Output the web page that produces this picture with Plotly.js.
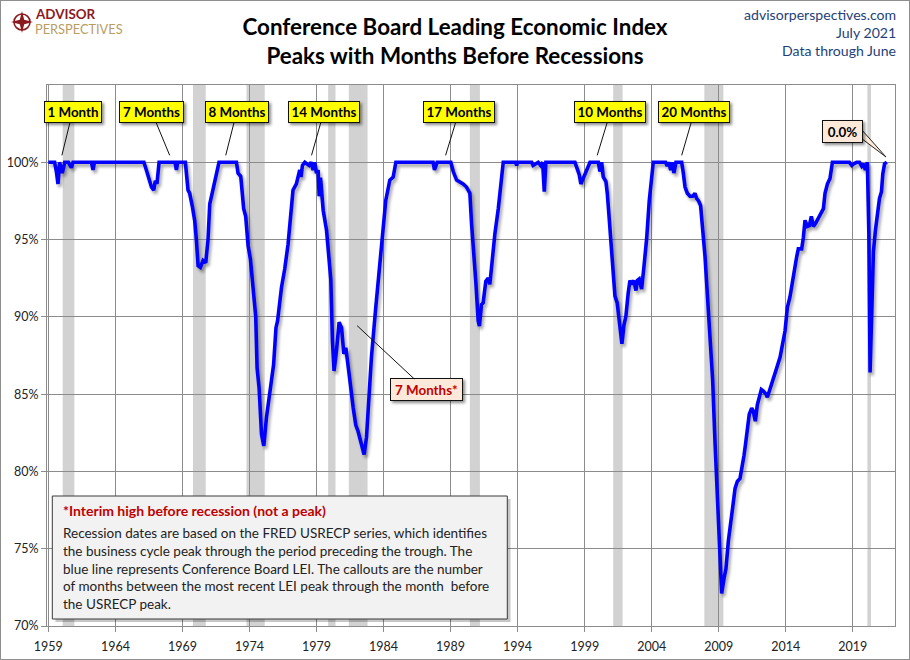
<!DOCTYPE html>
<html>
<head>
<meta charset="utf-8">
<script src="https://cdn.plot.ly/plotly-3.0.1.min.js"></script>
<style>
  html, body { margin: 0; padding: 0; background: #fff; }
  #wrap { position: relative; width: 910px; height: 660px; }
  #chart { width: 910px; height: 660px; }
  #frame { position: absolute; left: 0; top: 0; width: 910px; height: 660px; box-sizing: border-box; border: 1px solid #8f8f8f; pointer-events: none; }
  .scatterlayer .js-line { filter: drop-shadow(2px 3px 1.5px rgba(0,0,0,0.35)); }
  .annotation rect.bg { filter: drop-shadow(2px 2px 1.5px rgba(0,0,0,0.45)); }
</style>
</head>
<body>
<div id="wrap"><div id="chart"></div><div id="frame"></div></div>
<script>
// ---------------- DATA ----------------
// LEI as percent of its previous peak, decimal years
const leiYear = [
  1959.00,1959.47,1959.60,1959.72,1959.84,1960.04,1960.22,1960.50,1960.72,1960.84,
  1962.22,1962.33,1962.44,1966.13,1966.31,1966.69,1966.86,1966.98,1967.10,1967.26,
  1968.45,1968.55,1968.65,1969.22,1969.42,1969.54,1969.75,1969.92,1970.04,1970.17,
  1970.34,1970.54,1970.74,1970.91,1971.04,1971.28,1971.54,1971.73,1973.03,1973.15,
  1973.35,1973.57,1973.72,1973.90,1974.07,1974.27,1974.47,1974.57,1974.72,1974.90,
  1975.07,1975.27,1975.46,1975.64,1975.80,1975.98,1976.10,1976.39,1976.63,1976.88,
  1977.00,1977.25,1977.50,1977.75,1977.85,1977.95,1978.13,1978.45,1978.60,1978.75,
  1978.87,1979.00,1979.12,1979.20,1979.30,1979.50,1979.75,1979.95,1980.07,1980.19,
  1980.31,1980.49,1980.69,1980.87,1981.04,1981.19,1981.29,1981.49,1981.74,1981.93,
  1982.10,1982.36,1982.55,1982.73,1982.92,1983.10,1983.42,1983.67,1983.92,1984.17,
  1984.47,1984.72,1984.92,1987.70,1987.80,1988.00,1989.02,1989.20,1989.45,1989.69,
  1989.94,1990.19,1990.44,1990.57,1990.74,1990.89,1991.06,1991.15,1991.31,1991.43,
  1991.63,1991.81,1991.93,1992.06,1992.31,1992.56,1992.75,1992.93,1993.85,1993.93,
  1994.00,1995.05,1995.16,1995.54,1995.72,1995.87,1995.99,1996.11,1998.28,1998.45,
  1998.60,1998.72,1998.90,1999.15,1999.40,2000.02,2000.14,2000.27,2000.39,2000.59,
  2000.69,2000.84,2000.96,2001.13,2001.26,2001.43,2001.56,2001.69,2001.78,2001.93,
  2002.08,2002.25,2002.38,2002.50,2002.68,2002.83,2002.93,2003.07,2003.25,2003.42,
  2003.63,2003.82,2004.00,2004.12,2005.04,2005.16,2005.27,2005.42,2005.54,2005.66,
  2005.81,2006.24,2006.36,2006.49,2006.66,2006.86,2007.06,2007.23,2007.36,2007.50,
  2007.65,2007.80,2007.98,2008.10,2008.22,2008.40,2008.55,2008.72,2008.90,2009.04,
  2009.22,2009.40,2009.54,2009.72,2009.90,2010.04,2010.22,2010.39,2010.59,2010.72,
  2010.89,2010.99,2011.14,2011.28,2011.46,2011.58,2011.73,2011.88,2012.03,2012.18,
  2012.33,2012.53,2012.63,2012.78,2012.96,2013.13,2013.33,2013.58,2013.78,2013.95,
  2014.12,2014.32,2014.52,2014.69,2014.82,2014.94,2015.19,2015.31,2015.44,2015.61,
  2015.76,2015.91,2016.06,2016.26,2016.43,2016.61,2016.81,2016.93,2017.11,2017.30,
  2017.48,2018.75,2018.93,2019.06,2019.30,2019.50,2019.67,2019.80,2019.94,2020.09,
  2020.20,2020.29,2020.42,2020.54,2020.69,2020.84,2020.99,2021.14,2021.24,2021.37,
  2021.54
];
const leiPct = [
  100,100,99.4,98.6,100,99.3,100,100,99.65,100,
  100,99.5,100,100,99.5,98.4,98.2,98.8,98.6,100,
  100,99.5,100,100,98.2,98.0,97.1,96.2,95.0,93.3,
  93.2,93.65,93.5,95.0,97.3,98.3,99.2,100,100,99.3,
  99.1,97.0,96.5,94.6,93.75,91.7,90.0,86.7,85.4,82.4,
  81.65,83.5,84.8,85.6,86.9,89.3,89.75,91.9,93.1,94.7,
  96.0,98.2,98.6,99.5,99.05,99.8,100,99.8,100,99.5,
  100,99.3,99.5,97.8,99.0,96.9,95.6,93.2,92.4,88.45,
  86.5,87.8,89.65,89.3,87.6,88.0,87.4,85.9,84.1,83.0,
  82.6,81.85,81.1,82.2,84.8,87.4,90.6,92.8,95.0,97.55,
  98.85,99.05,100,100,99.5,100,100,99.4,98.85,98.75,
  98.6,98.4,98.0,96.0,94.3,92.2,89.75,89.4,90.8,90.9,
  92.3,92.5,92.1,93.4,95.4,97.0,98.85,100,100,99.8,
  100,100,99.8,100,99.8,100,98.1,100,100,99.5,
  99.2,98.6,99.0,99.5,100,100,99.4,100,99.05,98.75,
  98.0,96.3,95.0,93.3,91.35,90.9,90.05,89.0,88.25,89.45,
  90.05,91.55,92.35,92.1,92.35,91.7,92.35,92.45,91.8,93.2,
  95.1,97.5,99.3,100,100,99.75,100,99.5,100,99.3,
  100,100,99.3,98.4,98.0,97.8,97.8,98.0,97.65,97.5,
  97.2,95.9,93.9,92.2,90.3,88.5,85.9,82.0,78.1,74.8,
  72.1,73.1,73.7,75.5,77.0,77.65,78.9,79.35,79.55,80.1,
  81.05,81.7,83.05,83.7,84.1,83.9,83.25,84.3,84.8,85.3,
  85.2,85.0,84.8,85.25,85.7,86.25,86.7,87.4,88.5,89.1,
  90.6,91.3,92.35,93.4,93.9,94.4,94.4,95.1,96.25,95.85,
  95.9,96.5,95.85,96.1,96.4,96.7,97.0,98.0,98.6,98.95,
  100,100,99.8,99.9,100,100,99.75,99.9,99.5,100,
  95.4,86.4,91.9,94.2,95.6,96.9,97.65,98.1,99.25,99.9,
  100
];
// Recession periods (USRECP), decimal years
const recStart = [1960.07, 1969.79, 1973.78, 1979.87, 1981.41, 1990.44, 2001.13, 2007.93, 2020.09];
const recEnd   = [1960.94, 1970.74, 1975.14, 1980.42, 1982.81, 1991.19, 2001.83, 2009.35, 2020.36];
// Callouts: LEI peaks and months before recession
const calloutLabels = ['1 Month', '7 Months', '8 Months', '14 Months', '17 Months', '10 Months', '20 Months'];
const calloutPeak   = [1960.01, 1968.05, 1972.23, 1978.63, 1988.63, 1999.94, 2006.24];
const interimLabel = '7 Months*';
const interimPoint = [1982.03, 89.43];
const latestLabel = '0.0%';
// Axis ticks
const xTickYears = [1959, 1964, 1969, 1974, 1979, 1984, 1989, 1994, 1999, 2004, 2009, 2014, 2019];
const yTickVals = [70, 75, 80, 85, 90, 95, 100];
const yTickText = ['70%', '75%', '80%', '85%', '90%', '95%', '100%'];

// ---------------- LAYOUT HELPERS ----------------
const W = 910, H = 660, ML = 47, MR = 15, MT = 85, MB = 34;
const PW = W - ML - MR, PH = H - MT - MB;
const px = X => (X - ML) / PW;
const py = Y => (MT + PH - Y) / PH;
const FONT = 'Lato, "Open Sans", sans-serif';

const shapes = [];
recStart.forEach((s, i) => {
  shapes.push({type: 'rect', xref: 'x', yref: 'paper', x0: s, x1: recEnd[i], y0: 0, y1: 1,
    fillcolor: '#d2d2d2', line: {width: 0}, layer: 'below'});
});
// note box (shadow + box)
shapes.push({type: 'rect', xref: 'paper', yref: 'paper', x0: px(55.5), x1: px(510.5), y0: py(622), y1: py(499),
  fillcolor: 'rgba(0,0,0,0.22)', line: {width: 0}, layer: 'above'});
shapes.push({type: 'rect', xref: 'paper', yref: 'paper', x0: px(52.3), x1: px(507.3), y0: py(619), y1: py(496),
  fillcolor: '#f2f2f2', line: {color: '#3a3a3a', width: 1}, layer: 'above'});
// wedge for the 0.0% callout
function pathOf(pts) {
  return 'M' + pts.map(p => px(p[0]).toFixed(5) + ',' + py(p[1]).toFixed(5)).join(' L') + ' Z';
}
shapes.push({type: 'path', xref: 'paper', yref: 'paper', path: pathOf([[849, 129], [886, 157], [861, 129]]),
  fillcolor: '#fde9d9', line: {color: '#222', width: 1}, layer: 'above'});
// logo compass
shapes.push({type: 'circle', xref: 'paper', yref: 'paper', x0: px(14), x1: px(30), y0: py(30), y1: py(14),
  line: {color: '#8b1a1f', width: 1.6}, fillcolor: 'rgba(0,0,0,0)'});
const cx = 22, cy = 22;
shapes.push({type: 'path', xref: 'paper', yref: 'paper',
  path: pathOf([[cx, cy - 11], [cx + 2.2, cy - 2.2], [cx + 11, cy], [cx + 2.2, cy + 2.2], [cx, cy + 11], [cx - 2.2, cy + 2.2], [cx - 11, cy], [cx - 2.2, cy - 2.2]]),
  fillcolor: '#8b1a1f', line: {width: 0}});

const annotations = [];
function txt(text, X, Y, o) {
  o = o || {};
  annotations.push({xref: 'paper', yref: 'paper', x: px(X), y: py(Y), text: text, showarrow: false,
    xanchor: o.xanchor || 'left', yanchor: 'middle', align: o.xanchor === 'right' ? 'right' : 'left',
    font: {family: FONT, size: o.size || 12.5, color: o.color || '#222', weight: o.weight || 'normal'}});
}
// header texts
txt('advisorperspectives.com', 898, 15, {xanchor: 'right', size: 14.1, color: '#1f3f78'});
txt('July 2021', 898, 32.5, {xanchor: 'right', size: 14.1, color: '#1f3f78'});
txt('Data through June', 898, 50, {xanchor: 'right', size: 14.1, color: '#1f3f78'});
// logo
txt('ADVISOR', 33, 14, {size: 13.4, color: '#8b1a1f', weight: 'bold'});
txt('PERSPECTIVES', 33, 29.5, {size: 12.8, color: '#b99d5f'});
// note box texts
txt('*Interim high before recession (not a peak)', 61, 510, {size: 14, color: '#c00000', weight: 'bold'});
const noteLines = [
  'Recession dates are based on the FRED USRECP series, which identifies',
  'the business cycle peak through the period preceding the trough. The',
  'blue line represents Conference Board LEI. The callouts are the number',
  'of months between the most recent LEI peak through the month  before',
  'the USRECP peak.'
];
noteLines.forEach((l, i) => txt(l, 61, 533 + i * 17.8, {size: 13.5, color: '#222'}));

// callouts
const boxW = [54, 61, 60, 68, 68, 68, 68];
const boxCX = [73, 152, 237, 324, 459, 610.5, 694.3];
const tipX = [62.3, 170, 226, 311.7, 445.7, 597.3, 681.7];
calloutLabels.forEach((lab, i) => {
  annotations.push({xref: 'x', yref: 'y', x: calloutPeak[i], y: 100.45, text: lab,
    showarrow: true, arrowhead: 0, arrowwidth: 1, arrowcolor: '#111',
    ax: boxCX[i] - tipX[i], ay: -43.5,
    bgcolor: '#ffff00', bordercolor: '#111', borderwidth: 1, borderpad: 1,
    width: boxW[i], height: 18,
    font: {family: FONT, size: 13.4, color: '#000', weight: 'bold'}});
});
annotations.push({xref: 'x', yref: 'y', x: interimPoint[0], y: interimPoint[1], text: interimLabel,
  showarrow: true, arrowhead: 0, arrowwidth: 1, arrowcolor: '#111', ax: 69, ay: 64.3,
  bgcolor: '#fde9d9', bordercolor: '#111', borderwidth: 1, borderpad: 1, width: 69, height: 19,
  font: {family: FONT, size: 13.4, color: '#c00000', weight: 'bold'}});
annotations.push({xref: 'paper', yref: 'paper', x: px(863.3), y: py(119.5), text: latestLabel,
  showarrow: false, bgcolor: '#fde9d9', bordercolor: '#111', borderwidth: 1, borderpad: 1, width: 37, height: 19,
  font: {family: FONT, size: 13.4, color: '#000', weight: 'bold'}});

const trace = {x: leiYear, y: leiPct, type: 'scatter', mode: 'lines',
  line: {color: '#0000ff', width: 3.6}, hoverinfo: 'skip'};

const layout = {
  width: W, height: H,
  margin: {l: ML, r: MR, t: MT, b: MB, pad: 0},
  paper_bgcolor: '#fff', plot_bgcolor: '#fff',
  showlegend: false,
  font: {family: FONT, color: '#222', size: 12},
  title: {
    text: 'Conference Board Leading Economic Index<br>Peaks with Months Before Recessions',
    font: {family: FONT, size: 22.4, color: '#000', weight: 'bold'},
    x: 0.5, xref: 'container', xanchor: 'center',
    y: 0.947, yref: 'container', yanchor: 'top'
  },
  xaxis: {
    type: 'linear', range: [1958.9, 2022.15], tickvals: xTickYears, ticktext: xTickYears.map(String),
    showgrid: true, gridcolor: '#8c8c8c', gridwidth: 1, zeroline: false,
    showline: true, linecolor: '#8c8c8c', linewidth: 1, mirror: true,
    ticks: 'outside', ticklen: 5, tickcolor: '#8c8c8c', ticklabelstandoff: 4,
    tickfont: {family: FONT, size: 12.5, color: '#222'}, fixedrange: true
  },
  yaxis: {
    range: [70, 105], tickvals: yTickVals, ticktext: yTickText,
    showgrid: true, gridcolor: '#8c8c8c', gridwidth: 1, zeroline: false,
    showline: true, linecolor: '#8c8c8c', linewidth: 1, mirror: true,
    ticks: 'outside', ticklen: 5, tickcolor: '#8c8c8c',
    tickfont: {family: FONT, size: 12.5, color: '#222'}, fixedrange: true
  },
  shapes: shapes,
  annotations: annotations
};

Plotly.newPlot('chart', [trace], layout, {displayModeBar: false, staticPlot: true});
</script>
</body>
</html>
